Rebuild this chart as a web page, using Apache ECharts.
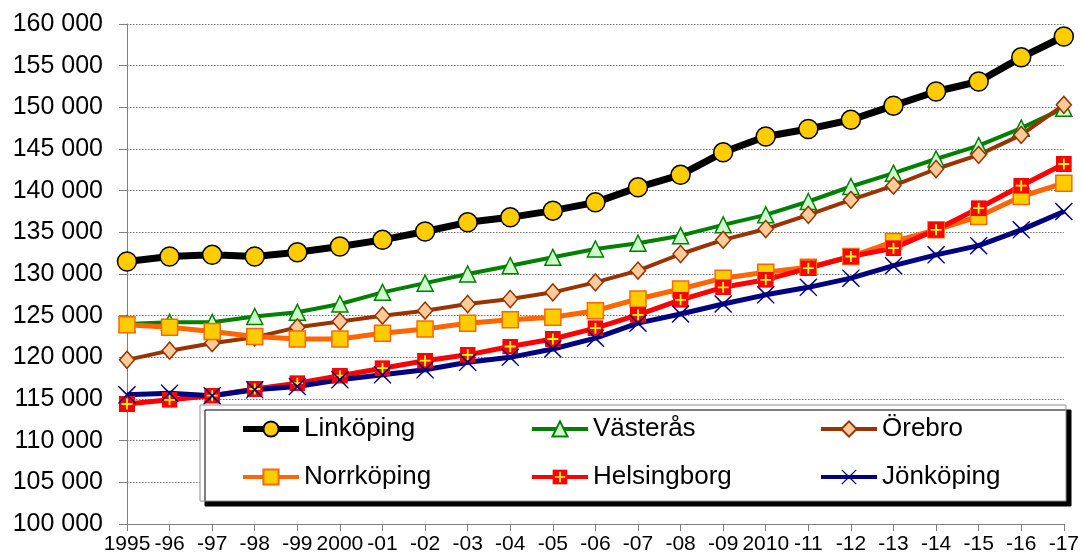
<!DOCTYPE html>
<html>
<head>
<meta charset="utf-8">
<script src="https://cdn.jsdelivr.net/npm/echarts@6/dist/echarts.min.js"></script>
<style>html,body{margin:0;padding:0;background:#fff}#c{width:1082px;height:558px}</style>
</head>
<body>
<div id="c"></div>
<script>
const categories = ['1995','-96','-97','-98','-99','2000','-01','-02','-03','-04','-05','-06','-07','-08','-09','2010','-11','-12','-13','-14','-15','-16','-17'];
const linkoping  = [131500,132100,132300,132100,132600,133300,134100,135100,136200,136800,137600,138600,140400,141900,144600,146500,147400,148500,150200,151900,153100,156000,158500];
const vasteras   = [124000,124200,124200,124900,125400,126400,127800,128900,130000,131000,132000,133000,133700,134600,135900,137100,138700,140500,142100,143800,145400,147500,149900];
const orebro     = [119700,120800,121700,122400,123600,124300,125000,125600,126400,127000,127800,129000,130400,132400,134100,135400,137100,138900,140600,142600,144300,146700,150300];
const norrkoping = [123900,123600,123100,122500,122200,122200,122900,123400,124100,124500,124800,125600,127000,128200,129500,130200,130800,132100,133900,135300,136900,139300,140900];
const helsingborg= [114400,114900,115400,116200,116900,117800,118700,119600,120300,121300,122200,123500,125100,126900,128400,129300,130700,132100,133100,135300,137900,140600,143200];
const jonkoping  = [115500,115700,115400,116100,116500,117300,117900,118500,119400,120000,121000,122300,124100,125200,126400,127500,128400,129500,131000,132300,133400,135300,137500];
const seriesNames = ['Linköping','Västerås','Örebro','Norrköping','Helsingborg','Jönköping'];
const yMin = 100000, yMax = 160000, yStep = 5000;

const FONT = "'Liberation Sans', Arial, sans-serif";
const helsSvg = "<svg xmlns='http://www.w3.org/2000/svg' width='32' height='32' viewBox='0 0 16 16'><rect x='0' y='0' width='16' height='16' fill='#FF0000'/><path d='M8 2.5V13.5M2.5 8H13.5' stroke='#FFFF00' stroke-width='1.8'/></svg>";
const helsSymbol = 'image://data:image/svg+xml;charset=utf-8,' + encodeURIComponent(helsSvg);
const xPath = 'path://M0,1 L1,0 L10,8.6 L19,0 L20,1 L11.4,10 L20,19 L19,20 L10,11.4 L1,20 L0,19 L8.6,10 Z';

const chart = echarts.init(document.getElementById('c'), null, {renderer: 'canvas'});
function mk(name, data, color, width, symbol, size, fill, border, bw) {
  return {
    name: name, type: 'line', data: data, symbol: symbol, symbolSize: size,
    showAllSymbol: true,
    lineStyle: {color: color, width: width},
    itemStyle: {color: fill, borderColor: border, borderWidth: bw},
    emphasis: {disabled: true},
    animation: false
  };
}
function legItem(i, w) { return {name: seriesNames[i], lineStyle: {width: w}}; }
const legendCommon = {
  orient: 'vertical', padding: 0, itemGap: 18, itemWidth: 56, itemHeight: 19,
  selectedMode: false, z: 5,
  textStyle: {fontSize: 26, fontFamily: FONT, color: '#000', lineHeight: 30, padding: [0,0,0,0]},
  lineStyle: {width: 4}
};
chart.setOption({
  backgroundColor: '#fff',
  animation: false,
  grid: {left: 127, right: 16, top: 24, bottom: 34, containLabel: false},
  xAxis: {
    type: 'category', data: categories, boundaryGap: false,
    axisLine: {lineStyle: {color: '#808080', width: 1}},
    axisTick: {show: true, length: 7, alignWithLabel: true, lineStyle: {color: '#808080'}},
    axisLabel: {fontSize: 21, fontFamily: FONT, color: '#000', margin: 10, interval: 0},
    splitLine: {show: false}
  },
  yAxis: {
    type: 'value', min: yMin, max: yMax, interval: yStep,
    axisLine: {show: true, lineStyle: {color: '#808080', width: 1}},
    axisTick: {show: true, length: 8, lineStyle: {color: '#808080'}},
    axisLabel: {fontSize: 25, fontFamily: FONT, color: '#000', margin: 24,
      formatter: v => String(v).replace(/\B(?=(\d{3})+(?!\d))/g, ' ')},
    splitLine: {show: true, lineStyle: {color: '#707070', type: [1.5, 1.5], width: 1}}
  },
  graphic: [{
    type: 'rect', z: 3,
    shape: {x: 200, y: 405, width: 866, height: 96},
    style: {fill: '#fff', stroke: '#909090', lineWidth: 1,
      shadowColor: '#000', shadowBlur: 0, shadowOffsetX: 5, shadowOffsetY: 5}
  }],
  legend: [
    Object.assign({left: 240, top: 414, data: [legItem(0, 6), legItem(3, 4)]}, legendCommon),
    Object.assign({left: 530, top: 414, data: [legItem(1, 4), legItem(4, 4)]}, legendCommon),
    Object.assign({left: 819, top: 414, data: [legItem(2, 4), legItem(5, 4)]}, legendCommon)
  ],
  series: [
    mk(seriesNames[0], linkoping, '#000000', 7, 'circle', 19, '#FFCC00', '#000000', 1.5),
    mk(seriesNames[1], vasteras, '#008000', 4, 'triangle', 16, '#CCFFCC', '#008000', 1.5),
    mk(seriesNames[2], orebro, '#993300', 4, 'diamond', [15, 17], '#FFCC99', '#993300', 1.5),
    mk(seriesNames[3], norrkoping, '#FF6600', 5, 'rect', 16, '#FFCC00', '#FF6600', 1.5),
    mk(seriesNames[4], helsingborg, '#FF0000', 5, helsSymbol, 16, '#FF0000', '#FF0000', 0),
    mk(seriesNames[5], jonkoping, '#000080', 5, xPath, 18, '#000080', '#000080', 0)
  ]
});
</script>
</body>
</html>
